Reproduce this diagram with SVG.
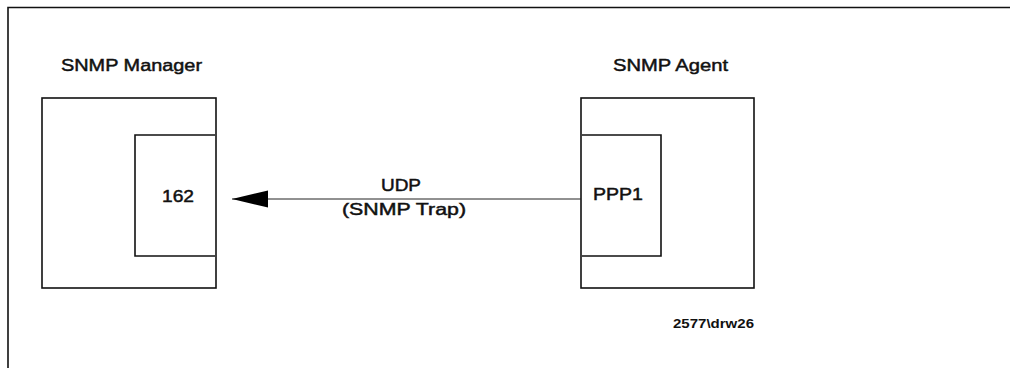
<svg xmlns="http://www.w3.org/2000/svg" width="1010" height="368" viewBox="0 0 1010 368">
  <style>
    .ln { fill: none; stroke: #111; stroke-width: 1.6; }
    .thin { fill: none; stroke: #222; stroke-width: 1; }
    .t { font-family: "Liberation Sans", Arial, sans-serif; font-size: 16px; font-weight: normal; fill: #111; stroke: #111; stroke-width: 0.45; }
    .s { font-family: "Liberation Sans", Arial, sans-serif; font-size: 13px; font-weight: bold; fill: #111; }
  </style>
  <defs>
    <marker id="arrow" markerUnits="userSpaceOnUse" markerWidth="38" markerHeight="20" refX="36" refY="9" orient="auto">
      <path d="M0,0.5 L36,9 L0,17.5 Z" fill="#000"/>
    </marker>
  </defs>
  <rect width="1010" height="368" fill="#fff"/>
  <g id="frame">
    <path class="ln" d="M8,368 V7.5 H1010"/>
  </g>
  <g id="manager">
    <text class="t" x="61" y="70.5" textLength="141" lengthAdjust="spacingAndGlyphs">SNMP Manager</text>
    <rect class="ln" x="42" y="98" width="174" height="190"/>
    <path class="ln" d="M215,135 H135 V256 H215"/>
    <text class="t" x="162" y="202" textLength="32" lengthAdjust="spacingAndGlyphs">162</text>
  </g>
  <g id="agent">
    <text class="t" x="613" y="70.5" textLength="115" lengthAdjust="spacingAndGlyphs">SNMP Agent</text>
    <rect class="ln" x="581" y="98" width="173" height="190"/>
    <path class="ln" d="M582,135 H661 V256 H582"/>
    <text class="t" x="593" y="200" textLength="50" lengthAdjust="spacingAndGlyphs">PPP1</text>
  </g>
  <g id="connectors">
    <line class="thin" x1="581" y1="199" x2="232" y2="199" marker-end="url(#arrow)"/>
    <text class="t" x="381" y="191" textLength="40" lengthAdjust="spacingAndGlyphs">UDP</text>
    <text class="t" x="342" y="215" textLength="124" lengthAdjust="spacingAndGlyphs">(SNMP Trap)</text>
  </g>
  <g id="caption">
    <text class="s" x="673" y="328" textLength="81" lengthAdjust="spacingAndGlyphs">2577\drw26</text>
  </g>
</svg>
